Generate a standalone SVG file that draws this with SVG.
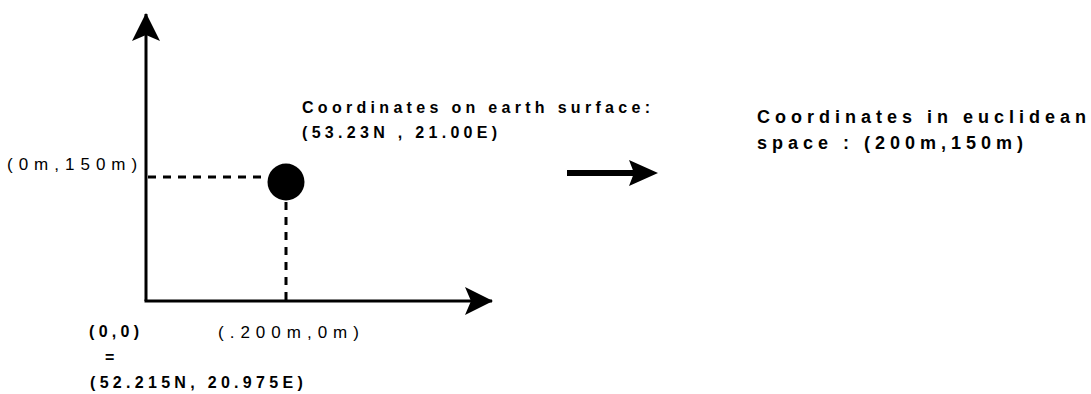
<svg xmlns="http://www.w3.org/2000/svg" width="1091" height="394" viewBox="0 0 1091 394">
  <style>
    .lbl { font-family: "Liberation Sans", Arial, sans-serif; fill: #000; }
    .reg { font-size: 17px; letter-spacing: 6px; }
    .bold { font-size: 16px; font-weight: bold; letter-spacing: 4.3px; }
    .big { font-size: 18px; font-weight: bold; letter-spacing: 5px; }
    .axis { stroke: #000; stroke-width: 3; fill: none; }
    .dash { stroke: #000; stroke-width: 3; fill: none; stroke-dasharray: 8 7; }
  </style>
  <defs>
    <marker id="axisHead" viewBox="0 0 28 28" refX="27" refY="14" markerWidth="28" markerHeight="28" markerUnits="userSpaceOnUse" orient="auto">
      <path d="M0,0 L28,14 L0,28 L6,14 Z" fill="#000"/>
    </marker>
  </defs>

  <!-- axes and projection lines -->
  <g id="connectors">
    <path class="axis" d="M146,301 L146,14" marker-end="url(#axisHead)"/>
    <path class="axis" d="M144.5,301 L492,301" marker-end="url(#axisHead)"/>
    <path class="dash" d="M148,177 L268,177"/>
    <path class="dash" d="M286,202 L286,300"/>
    <g id="transform-arrow">
      <path d="M567,173 L636,173" stroke="#000" stroke-width="6"/>
      <path d="M629,160 L658,173 L629,186 L634,173 Z" fill="#000"/>
    </g>
  </g>

  <g id="point">
    <circle cx="286" cy="182" r="18.5" fill="#000"/>
  </g>

  <g id="label-y">
    <text class="lbl reg" x="7" y="170">(0m,150m)</text>
  </g>

  <g id="label-x">
    <text class="lbl reg" x="218" y="338">(.200m,0m)</text>
  </g>

  <g id="label-origin">
    <text class="lbl bold" x="89" y="337">(0,0)</text>
    <text class="lbl bold" x="105" y="363">=</text>
    <text class="lbl bold" x="90" y="388">(52.215N, 20.975E)</text>
  </g>

  <g id="label-earth">
    <text class="lbl bold" x="302" y="113">Coordinates on earth surface:</text>
    <text class="lbl bold" x="302" y="138">(53.23N , 21.00E)</text>
  </g>

  <g id="label-euclid">
    <text class="lbl big" x="757" y="123">Coordinates in euclidean</text>
    <text class="lbl big" x="757" y="149">space : (200m,150m)</text>
  </g>
</svg>
